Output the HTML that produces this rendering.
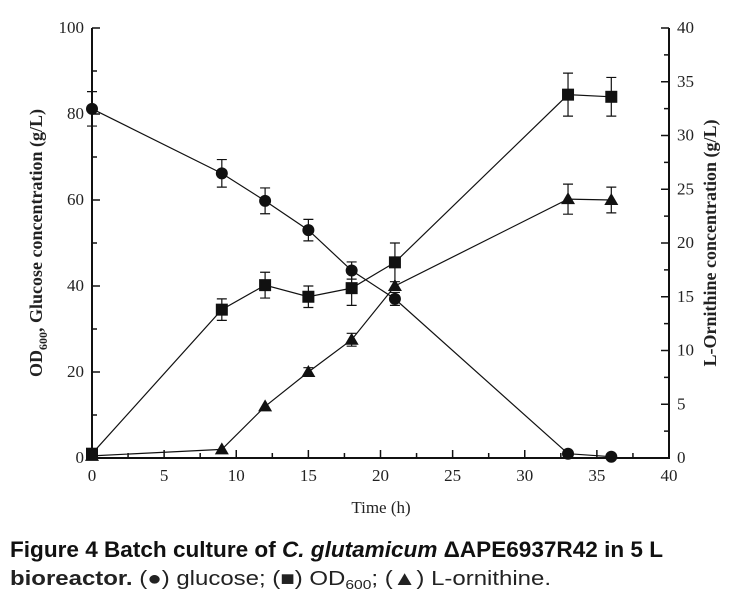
<!DOCTYPE html>
<html><head><meta charset="utf-8"><style>
body{margin:0;background:#fff;width:735px;height:598px;overflow:hidden}
svg text{font-family:"Liberation Serif",serif;fill:#222}
</style></head><body>
<svg width="735" height="598" viewBox="0 0 735 598">
<g id="axes" stroke="#111" stroke-width="2" fill="none">
<path d="M92,28 V458 H669 V28"/>
</g>
<g stroke="#111" stroke-width="1.5" id="ticks"></g>
<g id="lbl" font-size="17"></g>
<g id="data"></g>
<text x="381" y="513" font-size="17" text-anchor="middle">Time (h)</text>
<text transform="translate(42,243) rotate(-90)" font-size="18" font-weight="bold" text-anchor="middle">OD<tspan font-size="12" dy="5">600</tspan><tspan dy="-5">, Glucose concentration (g/L)</tspan></text>
<text transform="translate(716,243) rotate(-90)" font-size="18" font-weight="bold" text-anchor="middle">L-Ornithine concentration (g/L)</text>
<text x="10" y="557" font-size="22" textLength="653" lengthAdjust="spacingAndGlyphs" style="font-family:'Liberation Sans',sans-serif;fill:#111" font-weight="bold">Figure 4 Batch culture of <tspan font-style="italic">C. glutamicum</tspan> ΔAPE6937R42 in 5 L</text>
<text x="10" y="585" font-size="20" textLength="541" lengthAdjust="spacingAndGlyphs" style="font-family:'Liberation Sans',sans-serif;fill:#222"><tspan font-weight="bold">bioreactor.</tspan> (●) glucose; (■) OD<tspan font-size="13" dy="4">600</tspan><tspan dy="-4">; (▲) L-ornithine.</tspan></text>
</svg>
<script>
const ns="http://www.w3.org/2000/svg";
const X=t=>92+t*14.425, Y=v=>458-v*4.3;
function el(p,tag,a,txt){const e=document.createElementNS(ns,tag);for(const k in a)e.setAttribute(k,a[k]);if(txt!=null)e.textContent=txt;document.getElementById(p).appendChild(e);return e;}
for(let t=0;t<=40;t+=2.5){const x=X(t),maj=t%5==0;el("ticks","line",{x1:x,x2:x,y1:458,y2:458-(maj?8:5)});if(maj)el("lbl","text",{x:x,y:481,"text-anchor":"middle"},t);}
for(let v=0;v<=100;v+=10){const y=Y(v),maj=v%20==0;el("ticks","line",{x1:92,x2:92+(maj?8:5),y1:y,y2:y});if(maj)el("lbl","text",{x:84,y:y+5,"text-anchor":"end"},v);}
for(let r=0;r<=40;r+=2.5){const y=Y(r*2.5),maj=r%5==0;el("ticks","line",{x1:669,x2:669-(maj?8:5),y1:y,y2:y});if(maj)el("lbl","text",{x:677,y:y+5},r);}
const T=[0,9,12,15,18,21,33,36];
const G=[81.2,66.2,59.8,53,43.6,37,1,0.3],Ge=[4,3.2,3,2.5,2,1.5,0,0];
const O=[1,34.5,40.2,37.5,39.5,45.5,84.5,84],Oe=[0,2.5,3,2.5,4,4.5,5,4.5];
const L=[0.5,2,12,20,27.5,40,60.2,60],Le=[0,0,0,1,1.5,0,3.5,3];
function series(d,e,m){let pts=T.map((t,i)=>X(t)+","+Y(d[i])).join(" ");
el("data","polyline",{points:pts,fill:"none",stroke:"#111","stroke-width":1.2});
T.forEach((t,i)=>{const x=X(t),y=Y(d[i]);if(e[i]){const a=Y(d[i]+e[i]),b=Y(d[i]-e[i]);el("data","path",{d:`M${x},${a}V${b}M${x-5},${a}H${x+5}M${x-5},${b}H${x+5}`,stroke:"#111","stroke-width":1.2});}
if(m=="c")el("data","circle",{cx:x,cy:y,r:6,fill:"#111"});
if(m=="s")el("data","rect",{x:x-6,y:y-6,width:12,height:12,fill:"#111"});
if(m=="t")el("data","path",{d:`M${x},${y-7}L${x+7},${y+5}L${x-7},${y+5}Z`,fill:"#111"});});}
series(G,Ge,"c");series(O,Oe,"s");series(L,Le,"t");
</script>
</body></html>
